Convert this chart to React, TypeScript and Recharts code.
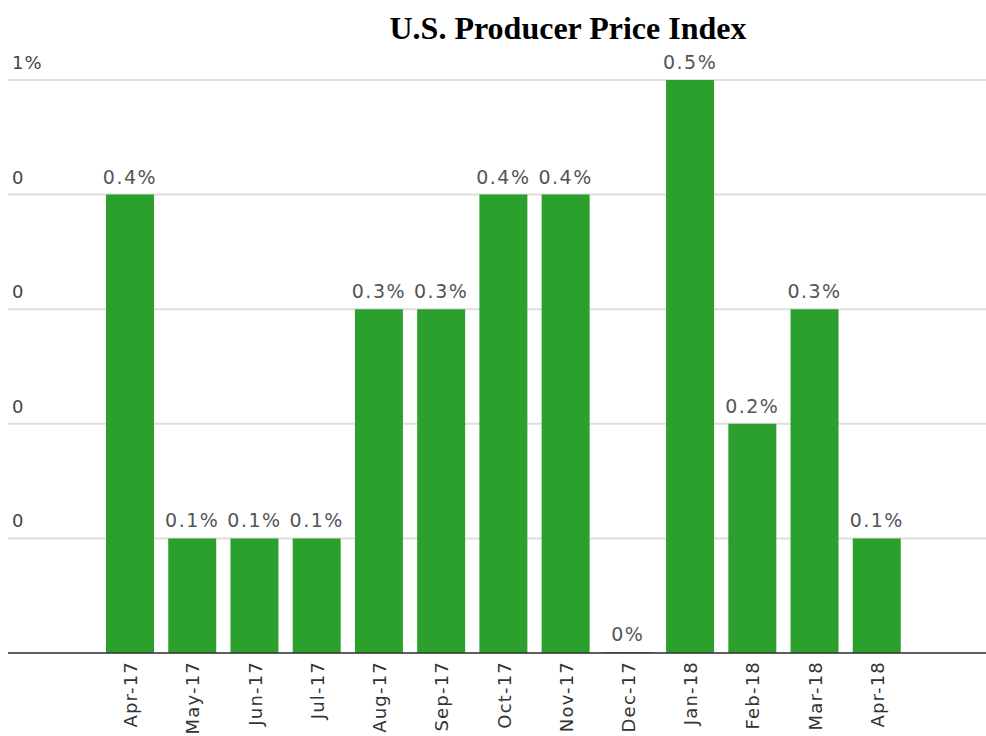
import React from "react";
import { BarChart, Bar, XAxis, YAxis, CartesianGrid, LabelList } from "recharts";

const months = ["Apr-17", "May-17", "Jun-17", "Jul-17", "Aug-17", "Sep-17", "Oct-17", "Nov-17", "Dec-17", "Jan-18", "Feb-18", "Mar-18", "Apr-18"];
const ppi = [0.4, 0.1, 0.1, 0.1, 0.3, 0.3, 0.4, 0.4, 0, 0.5, 0.2, 0.3, 0.1];
const yTicks = [0, 0.1, 0.2, 0.3, 0.4, 0.5];
const yTickLabels = ["", "0", "0", "0", "0", "1%"];

const data = months.map((m, i) => ({ month: m, value: ppi[i] }));

const FONT = "'DejaVu Sans', sans-serif";

const YTick = (props: any) => {
  const { y, payload } = props;
  const idx = yTicks.indexOf(payload.value);
  const label = idx >= 0 ? yTickLabels[idx] : "";
  return (
    <text x={12} y={y - 11} fill="#444" fontSize={18} letterSpacing={1} fontFamily={FONT} textAnchor="start">
      {label}
    </text>
  );
};

const XTick = (props: any) => {
  const { x, y, payload } = props;
  return (
    <text
      x={0}
      y={0}
      transform={`translate(${x + 7},${y}) rotate(-90)`}
      fill="#333"
      fontSize={18}
      letterSpacing={1.2}
      fontFamily={FONT}
      textAnchor="end"
    >
      {payload.value}
    </text>
  );
};

export default function App() {
  return (
    <div style={{ position: "absolute", left: 0, top: 0, width: 986, height: 736, background: "#fff" }}>
      <div
        style={{
          position: "absolute",
          left: 0,
          top: 10,
          width: 1136,
          textAlign: "center",
          fontFamily: "'Liberation Serif', 'Times New Roman', serif",
          fontWeight: "bold",
          fontSize: 32,
          lineHeight: "36px",
          color: "#000",
        }}
      >
        U.S. Producer Price Index
      </div>
      <BarChart width={986} height={736} data={data} margin={{ top: 80, right: 0, left: 7, bottom: 0 }} barCategoryGap={7}>
        <CartesianGrid horizontal={true} vertical={false} stroke="#dedede" strokeWidth={2} />
        <YAxis
          width={1}
          domain={[0, 0.5]}
          ticks={yTicks}
          axisLine={false}
          tickLine={false}
          tick={<YTick />}
        />
        <XAxis
          dataKey="month"
          interval={0}
          height={83}
          padding={{ left: 91, right: 78 }}
          axisLine={{ stroke: "#333", strokeWidth: 1.5 }}
          tickLine={false}
          tick={<XTick />}
        />
        <Bar
          dataKey="value"
          fill="#2ca02c"
          isAnimationActive={false}
          minPointSize={(v: any) => (v === 0 ? 1 : 0)}
        >
          <LabelList
            dataKey="value"
            position="top"
            offset={11}
            formatter={(v: any) => `${v}%`}
            fill="#555"
            fontSize={19}
            letterSpacing={1.5}
            fontFamily={FONT}
          />
        </Bar>
      </BarChart>
    </div>
  );
}
